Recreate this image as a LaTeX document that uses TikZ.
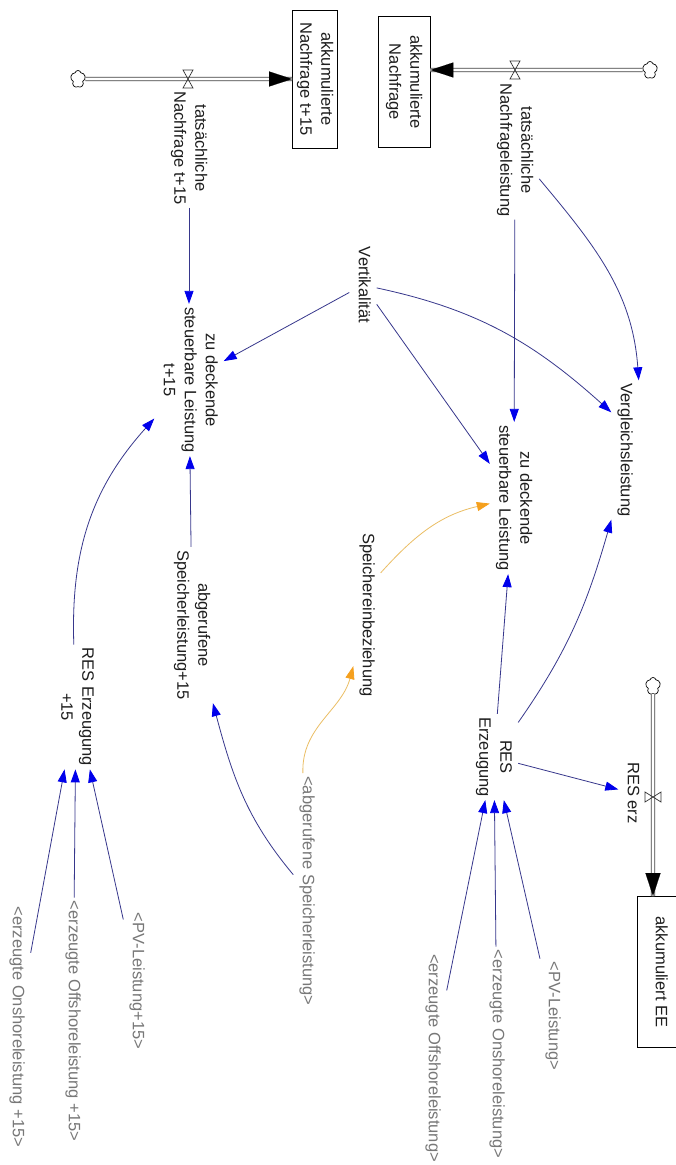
\documentclass[tikz,border=0pt]{standalone}
\usepackage{fontspec}
\setmainfont{Liberation Sans}
\usepackage{graphicx}
\usetikzlibrary{arrows.meta,shapes.symbols}
\definecolor{linkc}{RGB}{55,55,140}
\definecolor{tipc}{RGB}{0,0,235}
\definecolor{orline}{RGB}{235,190,100}
\definecolor{ortip}{RGB}{245,160,30}
\definecolor{txt}{RGB}{30,30,30}
\definecolor{shadowc}{RGB}{120,120,120}
\newcommand{\rtx}[1]{\rotatebox{-90}{\begin{tabular}{@{}c@{}}#1\end{tabular}}}
\begin{document}
\begin{tikzpicture}[x=1pt,y=1pt,
  var/.style={inner sep=3pt, text=txt, font=\fontsize{16.5}{21}\selectfont},
  shad/.style={var, text=shadowc},
  stock/.style={var, draw=black, line width=0.7pt, inner sep=0pt},
  cloudn/.style={cloud, cloud puffs=5, cloud puff arc=150, aspect=1, draw=black, line width=0.7pt, minimum width=15pt, minimum height=17pt, inner sep=0pt, fill=white},
  pipe/.style={draw=black!75, line width=0.8pt, double=white, double distance=2.6pt},
  pipetip/.style={draw=white, line width=0.1pt, -{Triangle[length=23pt,width=15pt,color=black,fill=black]}},
  valve/.style={draw=black!80, line width=0.7pt},
  link/.style={draw=linkc, line width=0.8pt, -{Triangle[length=13pt,width=9pt,color=tipc,fill=tipc]}},
  olink/.style={draw=orline, line width=0.8pt, -{Triangle[length=13pt,width=9pt,color=ortip,fill=ortip]}},
]
\fill[white] (0,0) rectangle (676,-1165);
\useasboundingbox (0,0) rectangle (676,-1165);

% stocks
\node[stock, minimum width=45pt, minimum height=138pt] (sANt) at (315,-79) {\rtx{akkumulierte\\Nachfrage t+15}};
\node[stock, minimum width=52pt, minimum height=131pt] (sAN) at (404,-82) {\rtx{akkumulierte\\Nachfrage}};
\node[stock, minimum width=46pt, minimum height=151pt] (sEE) at (660,-972) {\rtx{akkumuliert EE}};

% clouds and valves
\node[cloudn] (c1) at (78,-79) {};
\node[cloudn] (c2) at (650,-70) {};
\node[cloudn] (c3) at (653,-686) {};
\coordinate (v1) at (188,-79);
\coordinate (v2) at (515,-70);
\coordinate (v3) at (653,-797);

% pipes
\draw[pipe] (c1) -- (c1 -| sANt.west);
\draw[pipetip] (v1) -- (c1 -| sANt.west);
\draw[pipe] (c2) -- (c2 -| sAN.east);
\draw[pipetip] (v2) -- (c2 -| sAN.east);
\draw[pipe] (c3) -- (c3 |- sEE.north);
\draw[pipetip] (v3) -- (c3 |- sEE.north);

\draw[valve] (v1) +(-5,9) -- +(5,9) -- +(-5,-9) -- +(5,-9) -- cycle;
\draw[valve] (v2) +(-5,9) -- +(5,9) -- +(-5,-9) -- +(5,-9) -- cycle;
\draw[valve] (v3) +(-8,5) -- +(-8,-5) -- +(8,5) -- +(8,-5) -- cycle;

% variables
\node[var] (fNt) at (189,-148) {\rtx{tatsächliche\\Nachfrage t+15}};
\node[var] (fNL) at (515,-150) {\rtx{tatsächliche\\Nachfrageleistung}};
\node[var] (fRES) at (632,-793) {\rtx{RES erz}};
\node[var] (vVert) at (363,-285) {\rtx{Vertikalität}};
\node[var] (vZDt) at (189,-380) {\rtx{zu deckende\\steuerbare Leistung\\t+15}};
\node[var] (vVgl) at (625,-450) {\rtx{Vergleichsleistung}};
\node[var] (vZD) at (514,-498) {\rtx{zu deckende\\steuerbare Leistung}};
\node[var] (vSpE) at (367,-615) {\rtx{Speichereinbeziehung}};
\node[var] (vASt) at (192,-625) {\rtx{abgerufene\\Speicherleistung+15}};
\node[var] (vRES) at (494,-757) {\rtx{RES\\Erzeugung}};
\node[var] (vRESt) at (76,-707) {\rtx{RES Erzeugung\\+15}};

% shadow variables
\node[shad] (shPVt) at (137,-981) {\rtx{<PV-Leistung+15>}};
\node[shad] (shOfft) at (73,-1021) {\rtx{<erzeugte Offshoreleistung +15>}};
\node[shad] (shOnt) at (17,-1027) {\rtx{<erzeugte Onshoreleistung +15>}};
\node[shad] (shASL) at (307,-891) {\rtx{<abgerufene Speicherleistung>}};
\node[shad] (shPV) at (553,-1016) {\rtx{<PV-Leistung>}};
\node[shad] (shOn) at (497,-1054) {\rtx{<erzeugte Onshoreleistung>}};
\node[shad] (shOff) at (433,-1058) {\rtx{<erzeugte Offshoreleistung>}};

% links
\draw[link] (fNt) -- (vZDt);
\draw[link] (fNL) -- (vZD);
\draw[link] (fNL) to[out=-50,in=94] (vVgl.north east);
\draw[link] (vVert) -- (vZDt);
\draw[link] (vVert) -- (vZD);
\draw[link] (vVert) to[out=-12,in=138] (vVgl.110);
\draw[olink] (vSpE.72) to[out=48,in=193] (vZD);
\draw[olink] (shASL) to[out=92,in=255] (vSpE);
\draw[link] (shASL) to[out=130,in=285] (vASt);
\draw[link] (vASt) -- (vZDt);
\draw[link] (vRESt) to[out=92,in=228] (vZDt);
\draw[link] (vRES) -- (vZD);
\draw[link] (vRES) to[out=55,in=254] (vVgl.south west);
\draw[link] (vRES) -- (fRES);
\draw[link] (shPV) -- (vRES);
\draw[link] (shOn) -- (vRES);
\draw[link] (shOff) -- (vRES);
\draw[link] (shPVt) -- (vRESt);
\draw[link] (shOfft) -- (vRESt);
\draw[link] (shOnt) -- (vRESt);
\end{tikzpicture}
\end{document}
